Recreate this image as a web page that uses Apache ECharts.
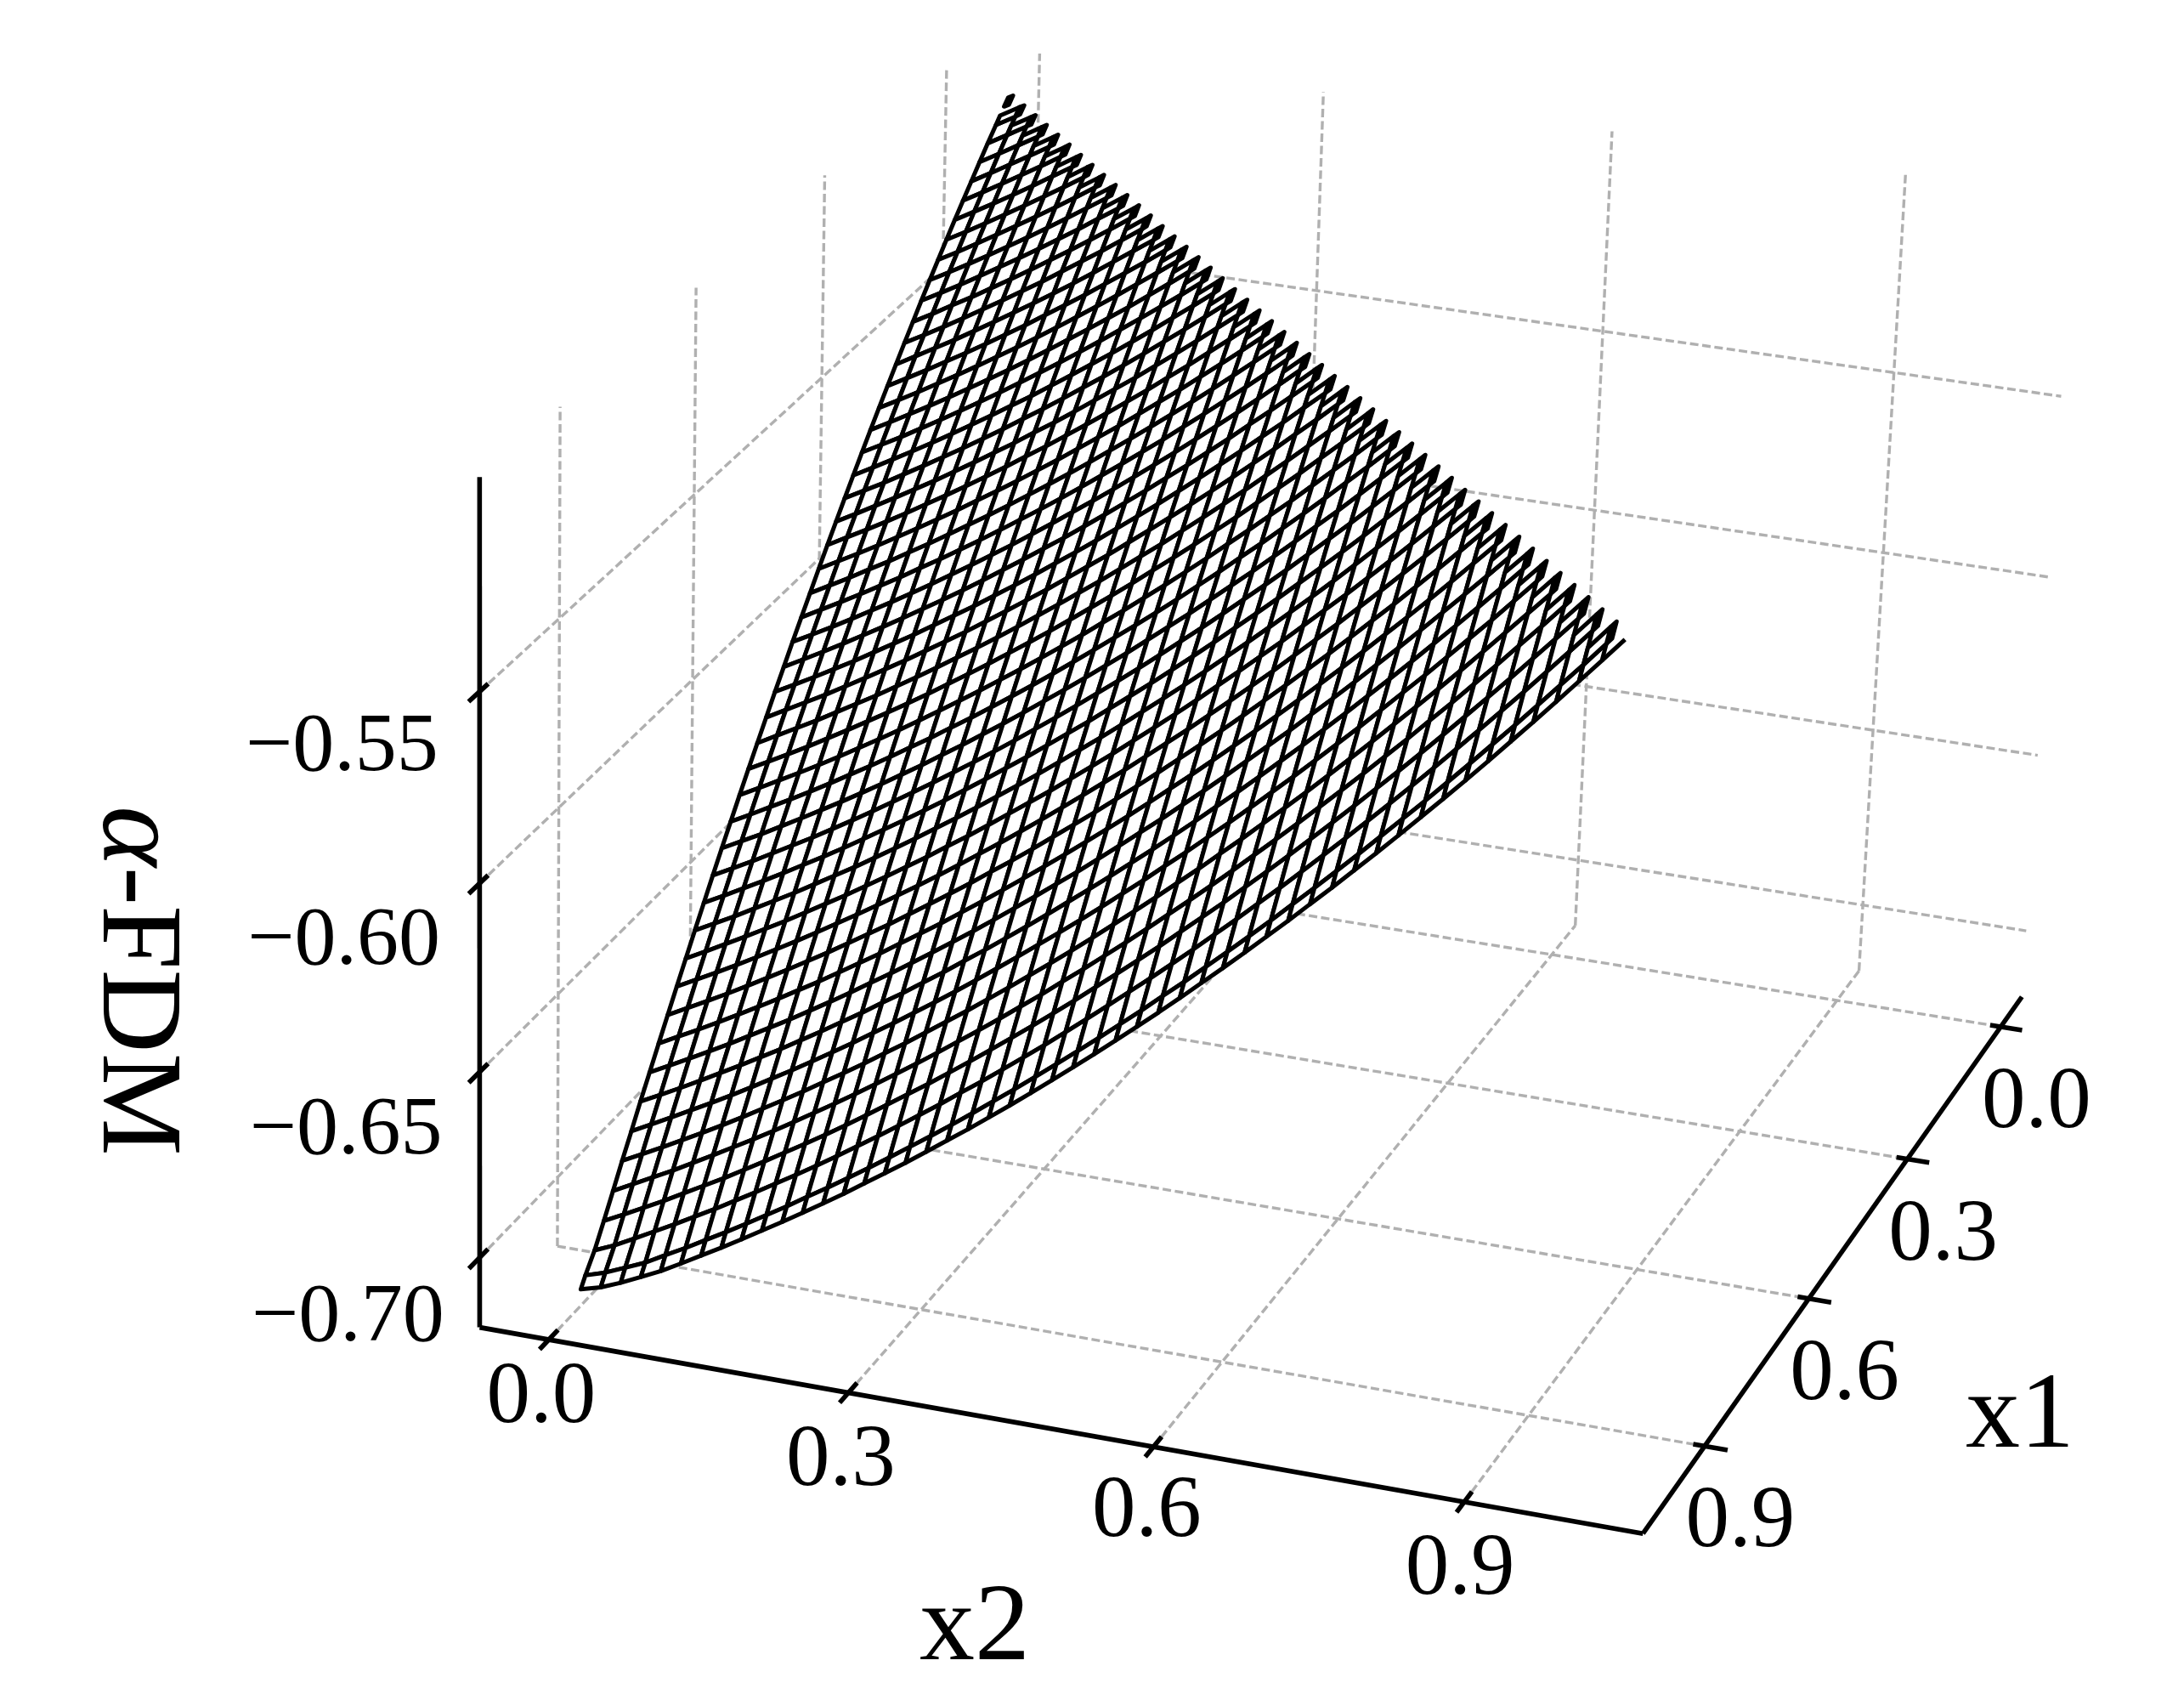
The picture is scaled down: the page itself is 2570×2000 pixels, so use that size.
<!DOCTYPE html>
<html>
<head>
<meta charset="utf-8">
<style>html,body{margin:0;background:#fff}#chart{width:2570px;height:2000px}</style>
<script src="https://cdn.jsdelivr.net/npm/echarts@6/dist/echarts.min.js"></script>
</head>
<body>
<div id="chart"></div>
<script>
var x1Ticks = [0.0, 0.3, 0.6, 0.9];
var x2Ticks = [0.0, 0.3, 0.6, 0.9];
var zTicks = [-0.55, -0.60, -0.65, -0.70];
var x1TickLabels = ['0.0', '0.3', '0.6', '0.9'];
var x2TickLabels = ['0.0', '0.3', '0.6', '0.9'];
var zTickLabels = ['\u22120.55', '\u22120.60', '\u22120.65', '\u22120.70'];

// surface readings. mesh index k means x = k*2/99 (k=50 is x = 1)
// zBands[r-1] = nodes r steps off the diagonal, x1 index going r, r+1 ... 49
var zBands = [
[-.5010,-.5011,-.5011,-.5012,-.5013,-.5013,-.5014,-.5015,-.5015,-.5016,-.5017,-.5017,-.5018,-.5019,-.5019,-.5020,-.5020,-.5021,-.5022,-.5022,-.5023,-.5024,-.5024,-.5025,-.5026,-.5026,-.5027,-.5028,-.5028,-.5029,-.5030,-.5030,-.5031,-.5031,-.5032,-.5033,-.5033,-.5034,-.5035,-.5035,-.5036,-.5037,-.5037,-.5038,-.5039,-.5039,-.5040,-.5040,-.5041],
[-.5041,-.5042,-.5043,-.5045,-.5046,-.5047,-.5049,-.5050,-.5051,-.5052,-.5054,-.5055,-.5056,-.5058,-.5059,-.5060,-.5062,-.5063,-.5064,-.5065,-.5067,-.5068,-.5069,-.5071,-.5072,-.5073,-.5074,-.5076,-.5077,-.5078,-.5080,-.5081,-.5082,-.5083,-.5085,-.5086,-.5087,-.5089,-.5090,-.5091,-.5093,-.5094,-.5095,-.5096,-.5098,-.5099,-.5100,-.5102],
[-.5072,-.5074,-.5076,-.5078,-.5080,-.5082,-.5084,-.5086,-.5088,-.5090,-.5092,-.5093,-.5095,-.5097,-.5099,-.5101,-.5103,-.5105,-.5107,-.5109,-.5111,-.5113,-.5115,-.5117,-.5119,-.5121,-.5122,-.5124,-.5126,-.5128,-.5130,-.5132,-.5134,-.5136,-.5138,-.5140,-.5142,-.5144,-.5146,-.5148,-.5150,-.5152,-.5153,-.5155,-.5157,-.5159,-.5161],
[-.5104,-.5107,-.5109,-.5112,-.5114,-.5117,-.5120,-.5122,-.5125,-.5127,-.5130,-.5132,-.5135,-.5138,-.5140,-.5143,-.5145,-.5148,-.5151,-.5153,-.5156,-.5158,-.5161,-.5163,-.5166,-.5169,-.5171,-.5174,-.5176,-.5179,-.5182,-.5184,-.5187,-.5189,-.5192,-.5194,-.5197,-.5200,-.5202,-.5205,-.5207,-.5210,-.5213,-.5215,-.5218,-.5220],
[-.5137,-.5140,-.5143,-.5146,-.5149,-.5153,-.5156,-.5159,-.5162,-.5166,-.5169,-.5172,-.5175,-.5178,-.5182,-.5185,-.5188,-.5191,-.5195,-.5198,-.5201,-.5204,-.5208,-.5211,-.5214,-.5217,-.5220,-.5224,-.5227,-.5230,-.5233,-.5237,-.5240,-.5243,-.5246,-.5250,-.5253,-.5256,-.5259,-.5262,-.5266,-.5269,-.5272,-.5275,-.5279],
[-.5170,-.5173,-.5177,-.5181,-.5185,-.5189,-.5193,-.5197,-.5201,-.5204,-.5208,-.5212,-.5216,-.5220,-.5224,-.5228,-.5232,-.5235,-.5239,-.5243,-.5247,-.5251,-.5255,-.5259,-.5263,-.5266,-.5270,-.5274,-.5278,-.5282,-.5286,-.5290,-.5294,-.5297,-.5301,-.5305,-.5309,-.5313,-.5317,-.5321,-.5325,-.5328,-.5332,-.5336],
[-.5203,-.5208,-.5212,-.5217,-.5221,-.5226,-.5230,-.5235,-.5239,-.5244,-.5248,-.5253,-.5257,-.5262,-.5266,-.5271,-.5275,-.5280,-.5285,-.5289,-.5294,-.5298,-.5303,-.5307,-.5312,-.5316,-.5321,-.5325,-.5330,-.5334,-.5339,-.5343,-.5348,-.5352,-.5357,-.5361,-.5366,-.5370,-.5375,-.5379,-.5384,-.5388,-.5393],
[-.5237,-.5243,-.5248,-.5253,-.5258,-.5263,-.5268,-.5274,-.5279,-.5284,-.5289,-.5294,-.5299,-.5304,-.5310,-.5315,-.5320,-.5325,-.5330,-.5335,-.5341,-.5346,-.5351,-.5356,-.5361,-.5366,-.5372,-.5377,-.5382,-.5387,-.5392,-.5397,-.5403,-.5408,-.5413,-.5418,-.5423,-.5428,-.5434,-.5439,-.5444,-.5449],
[-.5272,-.5278,-.5284,-.5290,-.5295,-.5301,-.5307,-.5313,-.5319,-.5324,-.5330,-.5336,-.5342,-.5348,-.5353,-.5359,-.5365,-.5371,-.5377,-.5383,-.5388,-.5394,-.5400,-.5406,-.5412,-.5417,-.5423,-.5429,-.5435,-.5441,-.5446,-.5452,-.5458,-.5464,-.5470,-.5476,-.5481,-.5487,-.5493,-.5499,-.5505],
[-.5307,-.5314,-.5320,-.5327,-.5333,-.5340,-.5346,-.5353,-.5359,-.5366,-.5372,-.5379,-.5385,-.5391,-.5398,-.5404,-.5411,-.5417,-.5424,-.5430,-.5437,-.5443,-.5450,-.5456,-.5462,-.5469,-.5475,-.5482,-.5488,-.5495,-.5501,-.5508,-.5514,-.5521,-.5527,-.5533,-.5540,-.5546,-.5553,-.5559],
[-.5343,-.5351,-.5358,-.5365,-.5372,-.5379,-.5386,-.5393,-.5400,-.5407,-.5414,-.5422,-.5429,-.5436,-.5443,-.5450,-.5457,-.5464,-.5471,-.5478,-.5485,-.5493,-.5500,-.5507,-.5514,-.5521,-.5528,-.5535,-.5542,-.5549,-.5557,-.5564,-.5571,-.5578,-.5585,-.5592,-.5599,-.5606,-.5613],
[-.5380,-.5388,-.5395,-.5403,-.5411,-.5419,-.5426,-.5434,-.5442,-.5450,-.5457,-.5465,-.5473,-.5481,-.5488,-.5496,-.5504,-.5512,-.5519,-.5527,-.5535,-.5543,-.5550,-.5558,-.5566,-.5574,-.5581,-.5589,-.5597,-.5605,-.5612,-.5620,-.5628,-.5636,-.5643,-.5651,-.5659,-.5667],
[-.5417,-.5425,-.5434,-.5442,-.5451,-.5459,-.5467,-.5476,-.5484,-.5493,-.5501,-.5509,-.5518,-.5526,-.5535,-.5543,-.5551,-.5560,-.5568,-.5577,-.5585,-.5593,-.5602,-.5610,-.5619,-.5627,-.5635,-.5644,-.5652,-.5660,-.5669,-.5677,-.5686,-.5694,-.5702,-.5711,-.5719],
[-.5455,-.5464,-.5473,-.5482,-.5491,-.5500,-.5509,-.5518,-.5527,-.5536,-.5545,-.5554,-.5563,-.5572,-.5581,-.5590,-.5599,-.5608,-.5617,-.5626,-.5636,-.5645,-.5654,-.5663,-.5672,-.5681,-.5690,-.5699,-.5708,-.5717,-.5726,-.5735,-.5744,-.5753,-.5762,-.5771],
[-.5493,-.5503,-.5512,-.5522,-.5532,-.5541,-.5551,-.5561,-.5570,-.5580,-.5590,-.5600,-.5609,-.5619,-.5629,-.5638,-.5648,-.5658,-.5667,-.5677,-.5687,-.5696,-.5706,-.5716,-.5725,-.5735,-.5745,-.5755,-.5764,-.5774,-.5784,-.5793,-.5803,-.5813,-.5822],
[-.5532,-.5542,-.5553,-.5563,-.5573,-.5584,-.5594,-.5604,-.5614,-.5625,-.5635,-.5645,-.5656,-.5666,-.5676,-.5687,-.5697,-.5707,-.5718,-.5728,-.5738,-.5749,-.5759,-.5769,-.5780,-.5790,-.5800,-.5811,-.5821,-.5831,-.5842,-.5852,-.5862,-.5873],
[-.5571,-.5582,-.5593,-.5604,-.5615,-.5626,-.5637,-.5648,-.5659,-.5670,-.5681,-.5692,-.5703,-.5714,-.5725,-.5736,-.5747,-.5758,-.5769,-.5780,-.5791,-.5802,-.5813,-.5824,-.5835,-.5846,-.5857,-.5868,-.5879,-.5890,-.5901,-.5912,-.5923],
[-.5611,-.5623,-.5635,-.5646,-.5658,-.5669,-.5681,-.5693,-.5704,-.5716,-.5728,-.5739,-.5751,-.5762,-.5774,-.5786,-.5797,-.5809,-.5820,-.5832,-.5844,-.5855,-.5867,-.5879,-.5890,-.5902,-.5913,-.5925,-.5937,-.5948,-.5960,-.5972],
[-.5652,-.5664,-.5676,-.5689,-.5701,-.5713,-.5725,-.5738,-.5750,-.5762,-.5775,-.5787,-.5799,-.5811,-.5824,-.5836,-.5848,-.5860,-.5873,-.5885,-.5897,-.5910,-.5922,-.5934,-.5946,-.5959,-.5971,-.5983,-.5995,-.6008,-.6020],
[-.5693,-.5706,-.5719,-.5732,-.5745,-.5758,-.5771,-.5783,-.5796,-.5809,-.5822,-.5835,-.5848,-.5861,-.5874,-.5887,-.5900,-.5913,-.5926,-.5938,-.5951,-.5964,-.5977,-.5990,-.6003,-.6016,-.6029,-.6042,-.6055,-.6068],
[-.5735,-.5748,-.5762,-.5775,-.5789,-.5803,-.5816,-.5830,-.5843,-.5857,-.5870,-.5884,-.5898,-.5911,-.5925,-.5938,-.5952,-.5965,-.5979,-.5992,-.6006,-.6020,-.6033,-.6047,-.6060,-.6074,-.6087,-.6101,-.6114],
[-.5777,-.5791,-.5806,-.5820,-.5834,-.5848,-.5862,-.5877,-.5891,-.5905,-.5919,-.5933,-.5948,-.5962,-.5976,-.5990,-.6004,-.6019,-.6033,-.6047,-.6061,-.6075,-.6090,-.6104,-.6118,-.6132,-.6146,-.6161],
[-.5820,-.5835,-.5850,-.5865,-.5879,-.5894,-.5909,-.5924,-.5939,-.5954,-.5969,-.5983,-.5998,-.6013,-.6028,-.6043,-.6058,-.6073,-.6087,-.6102,-.6117,-.6132,-.6147,-.6162,-.6176,-.6191,-.6206],
[-.5864,-.5879,-.5895,-.5910,-.5926,-.5941,-.5957,-.5972,-.5988,-.6003,-.6019,-.6034,-.6050,-.6065,-.6081,-.6096,-.6111,-.6127,-.6142,-.6158,-.6173,-.6189,-.6204,-.6220,-.6235,-.6251],
[-.5908,-.5924,-.5940,-.5956,-.5972,-.5988,-.6004,-.6021,-.6037,-.6053,-.6069,-.6085,-.6101,-.6117,-.6134,-.6150,-.6166,-.6182,-.6198,-.6214,-.6230,-.6247,-.6263,-.6279,-.6295],
[-.5952,-.5969,-.5986,-.6003,-.6019,-.6036,-.6053,-.6070,-.6087,-.6103,-.6120,-.6137,-.6154,-.6171,-.6187,-.6204,-.6221,-.6238,-.6254,-.6271,-.6288,-.6305,-.6322,-.6338],
[-.5998,-.6015,-.6032,-.6050,-.6067,-.6085,-.6102,-.6120,-.6137,-.6154,-.6172,-.6189,-.6207,-.6224,-.6242,-.6259,-.6276,-.6294,-.6311,-.6329,-.6346,-.6364,-.6381],
[-.6043,-.6061,-.6079,-.6098,-.6116,-.6134,-.6152,-.6170,-.6188,-.6206,-.6224,-.6242,-.6260,-.6278,-.6296,-.6315,-.6333,-.6351,-.6369,-.6387,-.6405,-.6423],
[-.6090,-.6108,-.6127,-.6146,-.6165,-.6183,-.6202,-.6221,-.6240,-.6258,-.6277,-.6296,-.6314,-.6333,-.6352,-.6371,-.6389,-.6408,-.6427,-.6446,-.6464],
[-.6137,-.6156,-.6175,-.6195,-.6214,-.6234,-.6253,-.6272,-.6292,-.6311,-.6330,-.6350,-.6369,-.6389,-.6408,-.6427,-.6447,-.6466,-.6485,-.6505],
[-.6184,-.6204,-.6224,-.6244,-.6264,-.6284,-.6304,-.6324,-.6344,-.6364,-.6384,-.6404,-.6424,-.6445,-.6465,-.6485,-.6505,-.6525,-.6545],
[-.6232,-.6253,-.6274,-.6294,-.6315,-.6336,-.6356,-.6377,-.6398,-.6418,-.6439,-.6460,-.6480,-.6501,-.6522,-.6542,-.6563,-.6584],
[-.6281,-.6302,-.6324,-.6345,-.6366,-.6388,-.6409,-.6430,-.6452,-.6473,-.6494,-.6516,-.6537,-.6558,-.6579,-.6601,-.6622],
[-.6330,-.6352,-.6374,-.6396,-.6418,-.6440,-.6462,-.6484,-.6506,-.6528,-.6550,-.6572,-.6594,-.6616,-.6638,-.6660],
[-.6380,-.6403,-.6426,-.6448,-.6471,-.6493,-.6516,-.6539,-.6561,-.6584,-.6606,-.6629,-.6652,-.6674,-.6697],
[-.6431,-.6454,-.6477,-.6501,-.6524,-.6547,-.6570,-.6594,-.6617,-.6640,-.6663,-.6687,-.6710,-.6733],
[-.6482,-.6506,-.6530,-.6554,-.6577,-.6601,-.6625,-.6649,-.6673,-.6697,-.6721,-.6745,-.6769],
[-.6534,-.6558,-.6583,-.6607,-.6632,-.6656,-.6681,-.6705,-.6730,-.6754,-.6779,-.6803],
[-.6586,-.6611,-.6636,-.6661,-.6686,-.6712,-.6737,-.6762,-.6787,-.6812,-.6838],
[-.6639,-.6664,-.6690,-.6716,-.6742,-.6768,-.6793,-.6819,-.6845,-.6871],
[-.6692,-.6718,-.6745,-.6771,-.6798,-.6824,-.6851,-.6877,-.6904],
[-.6746,-.6773,-.6800,-.6827,-.6854,-.6881,-.6909,-.6936],
[-.6800,-.6828,-.6856,-.6884,-.6911,-.6939,-.6967],
[-.6856,-.6884,-.6912,-.6941,-.6969,-.6998],
[-.6911,-.6940,-.6969,-.6998,-.7027],
[-.6968,-.6997,-.7027,-.7057],
[-.7024,-.7055,-.7080],
[-.7078,-.7103],
[-.7120]
];
// x1 = 1 row, x2 index going 49, 48 ... 0
var zFrontRow = [-.5011,-.5072,-.5132,-.5192,-.5251,-.5309,-.5367,-.5424,-.5480,-.5535,-.5590,-.5644,-.5697,-.5750,-.5801,-.5853,-.5903,-.5953,-.6002,-.6050,-.6098,-.6145,-.6191,-.6236,-.6281,-.6325,-.6368,-.6411,-.6453,-.6494,-.6535,-.6574,-.6613,-.6652,-.6689,-.6726,-.6763,-.6798,-.6833,-.6867,-.6900,-.6933,-.6965,-.6996,-.7027,-.7057,-.7083,-.7108,-.7130,-.7145];
// nodes of the saw edge along the diagonal, x1 index m = 1 ... 49
var zSawA = [-.5003,-.5003,-.5004,-.5004,-.5005,-.5005,-.5006,-.5006,-.5007,-.5007,-.5008,-.5008,-.5008,-.5009,-.5009,-.5010,-.5010,-.5011,-.5011,-.5012,-.5012,-.5013,-.5013,-.5014,-.5014,-.5015,-.5015,-.5016,-.5016,-.5017,-.5017,-.5018,-.5018,-.5019,-.5019,-.5020,-.5020,-.5021,-.5021,-.5022,-.5022,-.5023,-.5023,-.5023,-.5024,-.5024,-.5025,-.5025,-.5026];
var zSawB = [-.4995,-.4995,-.4996,-.4996,-.4996,-.4997,-.4997,-.4997,-.4998,-.4998,-.4998,-.4999,-.4999,-.4999,-.5000,-.5000,-.5000,-.5000,-.5001,-.5001,-.5001,-.5002,-.5002,-.5002,-.5003,-.5003,-.5003,-.5004,-.5004,-.5004,-.5005,-.5005,-.5005,-.5006,-.5006,-.5006,-.5007,-.5007,-.5007,-.5008,-.5008,-.5008,-.5009,-.5009,-.5009,-.5010,-.5010,-.5010,-.5010];
var zSawD = [-.4988,-.4988,-.4988,-.4988,-.4988,-.4988,-.4989,-.4989,-.4989,-.4989,-.4989,-.4989,-.4989,-.4990,-.4990,-.4990,-.4990,-.4990,-.4990,-.4991,-.4991,-.4991,-.4991,-.4991,-.4991,-.4992,-.4992,-.4992,-.4992,-.4992,-.4992,-.4993,-.4993,-.4993,-.4993,-.4993,-.4993,-.4994,-.4994,-.4994,-.4994,-.4994,-.4994,-.4995,-.4995,-.4995,-.4995,-.4995,-.4995];
// m = 2 ... 49
var zSawC = [-.5025,-.5026,-.5027,-.5028,-.5029,-.5030,-.5031,-.5032,-.5033,-.5034,-.5035,-.5036,-.5037,-.5038,-.5039,-.5040,-.5041,-.5042,-.5043,-.5044,-.5045,-.5046,-.5047,-.5048,-.5049,-.5050,-.5051,-.5052,-.5053,-.5054,-.5054,-.5055,-.5056,-.5057,-.5058,-.5059,-.5060,-.5061,-.5062,-.5063,-.5064,-.5065,-.5066,-.5067,-.5068,-.5069,-.5070,-.5071];

var lo = -0.07, hi = 1.07, zLo = -0.719, zHi = -0.495;

// x1, x2, z, pixel x, pixel y : where the box shows up in the picture
var camPoints = [
  [hi, lo, zLo, 565, 1560], [hi, hi, zLo, 1934, 1802], [lo, hi, zLo, 2377, 1172], [hi, lo, zHi, 565, 560],
  [hi, 0, zLo, 648, 1577], [hi, .3, zLo, 1000, 1637], [hi, .6, zLo, 1360, 1705], [hi, .9, zLo, 1729, 1767],
  [0, hi, zLo, 2355, 1210], [.3, hi, zLo, 2245, 1365], [.6, hi, zLo, 2125, 1532], [.9, hi, zLo, 2002, 1705],
  [hi, lo, -.55, 565, 810], [hi, lo, -.6, 565, 1036], [hi, lo, -.65, 565, 1258], [hi, lo, -.7, 565, 1477],
  [.9, lo, zLo, 653, 1467], [.9, lo, zHi, 652, 488], [.9, lo, -.7, 653, 1385],
  [lo, .9, zLo, 2191, 1147], [lo, .9, zHi, 2250, 205], [lo, .6, zLo, 1857, 1090], [lo, .6, zHi, 1900, 159],
  [lo, hi, -.55, 2422, 459], [lo, hi, -.6, 2409, 672], [lo, hi, -.65, 2395, 885], [lo, hi, -.7, 2381, 1093]
];

// least squares for the 3d -> 2d camera matrix
function solveCam(pts) {
  var n = 11, A = [], i, j, k;
  for (i = 0; i < n; i++) { A.push(new Array(n + 1).fill(0)); }
  function add(row, rhs) {
    for (var a = 0; a < n; a++) {
      for (var b = 0; b < n; b++) { A[a][b] += row[a] * row[b]; }
      A[a][n] += row[a] * rhs;
    }
  }
  pts.forEach(function (p) {
    var X = p[0], Y = p[1], Z = (p[2] + 0.6) * 10, u = p[3] / 1000, v = p[4] / 1000;
    add([X, Y, Z, 1, 0, 0, 0, 0, -u * X, -u * Y, -u * Z], u);
    add([0, 0, 0, 0, X, Y, Z, 1, -v * X, -v * Y, -v * Z], v);
  });
  for (i = 0; i < n; i++) {
    var best = i;
    for (k = i + 1; k < n; k++) { if (Math.abs(A[k][i]) > Math.abs(A[best][i])) best = k; }
    var t = A[i]; A[i] = A[best]; A[best] = t;
    for (k = 0; k < n; k++) {
      if (k === i) continue;
      var f = A[k][i] / A[i][i];
      for (j = i; j <= n; j++) { A[k][j] -= f * A[i][j]; }
    }
  }
  return A.map(function (r, idx) { return r[n] / r[idx]; });
}
var cam = solveCam(camPoints);

function project(x1, x2, z) {
  var Z = (z + 0.6) * 10;
  var w = cam[8] * x1 + cam[9] * x2 + cam[10] * Z + 1;
  return [1000 * (cam[0] * x1 + cam[1] * x2 + cam[2] * Z + cam[3]) / w,
          1000 * (cam[4] * x1 + cam[5] * x2 + cam[6] * Z + cam[7]) / w];
}

function meshX(k) { return k >= 50 ? 1 : k * 2 / 99; }
function node(m, n) {
  var z = m === 50 ? zFrontRow[49 - n] : zBands[m - n - 1][n];
  return project(meshX(m), meshX(n), z);
}

var cells = [];
var m, n;
for (m = 2; m <= 49; m++) {
  for (n = 0; n <= m - 2; n++) {
    cells.push([node(m, n), node(m + 1, n), node(m + 1, n + 1), node(m, n + 1)]);
  }
}
// saw edge along the diagonal
for (m = 1; m <= 49; m++) {
  var sawA = project(meshX(m), meshX(m - 0.75), zSawA[m - 1]);
  var sawB = project(meshX(m - 0.5), meshX(m - 1), zSawB[m - 1]);
  var sawD = project(meshX(m - 0.5), meshX(m - 0.75), zSawD[m - 1]);
  cells.push([node(m, m - 1), sawA, sawD, sawB]);
  if (m >= 2) {
    var sawC = project(meshX(m - 0.5), meshX(m - 2), zSawC[m - 2]);
    cells.push([node(m, m - 2), node(m, m - 1), sawB, sawC]);
  }
}
cells.push([node(50, 48), node(50, 49)]);

var gridSegs = [], axisSegs = [];
x2Ticks.forEach(function (v) {
  gridSegs.push([hi, v, zLo, lo, v, zLo]);
  gridSegs.push([lo, v, zLo, lo, v, zHi]);
  axisSegs.push([hi + 0.02, v, zLo, hi - 0.02, v, zLo]);
});
x1Ticks.forEach(function (v) {
  gridSegs.push([v, lo, zLo, v, hi, zLo]);
  gridSegs.push([v, lo, zLo, v, lo, zHi]);
  axisSegs.push([v, hi + 0.022, zLo, v, hi - 0.011, zLo]);
});
zTicks.forEach(function (v) {
  gridSegs.push([hi, lo, v, lo, lo, v]);
  gridSegs.push([lo, lo, v, lo, hi, v]);
  axisSegs.push([hi + 0.023, lo, v, hi - 0.018, lo, v]);
});
axisSegs.push([hi, lo, zLo, hi, hi, zLo], [hi, hi, zLo, lo, hi, zLo], [hi, lo, zLo, hi, lo, zHi]);

var serifFont = '"Liberation Serif", "Times New Roman", serif';
var x2LabelDx = [-9, -9, -8, -5], x2LabelDy = [70, 81, 78, 81];
var texts = [];
x2Ticks.forEach(function (v, i) {
  var p = project(hi, v, zLo);
  texts.push({ text: x2TickLabels[i], x: p[0] + x2LabelDx[i], y: p[1] + x2LabelDy[i], size: 103 });
});
x1Ticks.forEach(function (v, i) {
  var p = project(v, hi, zLo);
  texts.push({ text: x1TickLabels[i], x: p[0] + 42, y: p[1] + 91, size: 103 });
});
zTicks.forEach(function (v, i) {
  var p = project(hi, lo, v);
  texts.push({ text: zTickLabels[i], x: p[0] - 162 + i * 2.3, y: p[1] + 67 + i * 1.7, size: 98 });
});
texts.push({ text: 'x2', x: 1147, y: 1918, size: 130 });
texts.push({ text: 'x1', x: 2377, y: 1668, size: 128 });
texts.push({ text: '{a|\u03b1}-FDM', x: 158, y: 1154, size: 136, rotation: -Math.PI / 2 });

function segSeries(segs, style) {
  return {
    type: 'custom', coordinateSystem: 'cartesian2d', animation: false, silent: true, clip: false,
    data: segs.map(function (s, i) { return [i, 0]; }),
    renderItem: function (params, api) {
      var s = segs[params.dataIndex];
      var a = api.coord(project(s[0], s[1], s[2])), b = api.coord(project(s[3], s[4], s[5]));
      return { type: 'line', shape: { x1: a[0], y1: a[1], x2: b[0], y2: b[1] }, style: style };
    }
  };
}

var myChart = echarts.init(document.getElementById('chart'));
myChart.setOption({
  backgroundColor: '#fff',
  grid: { left: 0, top: 0, width: 2570, height: 2000 },
  xAxis: { type: 'value', min: 0, max: 2570, show: false },
  yAxis: { type: 'value', min: 0, max: 2000, inverse: true, show: false },
  series: [
    segSeries(gridSegs, { stroke: '#b0b0b0', lineWidth: 3.4, lineDash: [10, 4.5] }),
    {
      type: 'custom', coordinateSystem: 'cartesian2d', animation: false, silent: true, clip: false,
      progressive: 0,
      data: cells.map(function (c, i) { return [i, 0]; }),
      renderItem: function (params, api) {
        var pts = cells[params.dataIndex].map(function (p) { return api.coord(p); });
        return {
          type: pts.length > 2 ? 'polygon' : 'polyline',
          shape: { points: pts },
          style: { fill: pts.length > 2 ? '#fff' : 'none', stroke: '#000', lineWidth: 5, lineJoin: 'round' }
        };
      }
    },
    segSeries(axisSegs, { stroke: '#000', lineWidth: 5.6 }),
    {
      type: 'custom', coordinateSystem: 'cartesian2d', animation: false, silent: true, clip: false,
      data: texts.map(function (t, i) { return [i, 0]; }),
      renderItem: function (params, api) {
        var t = texts[params.dataIndex];
        var p = api.coord([t.x, t.y]);
        return {
          type: 'text', x: p[0], y: p[1], rotation: t.rotation || 0,
          style: {
            text: t.text, fill: '#000', align: 'center', verticalAlign: 'middle',
            fontFamily: serifFont, fontSize: t.size,
            rich: { a: { fontStyle: 'italic', fontFamily: serifFont, fontSize: t.size } }
          }
        };
      }
    }
  ]
});
</script>
</body>
</html>
